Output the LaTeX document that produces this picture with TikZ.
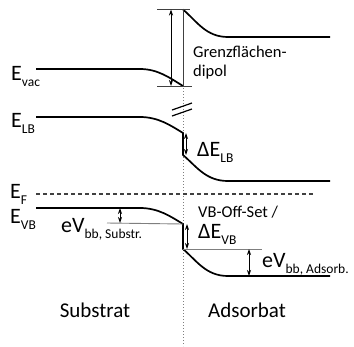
\documentclass[tikz,border=0pt]{standalone}
\usepackage{fontspec}
\setmainfont{Carlito}
\usetikzlibrary{arrows.meta, positioning, calc}
\definecolor{refgrey}{HTML}{7f7f7f}
\definecolor{tickgrey}{HTML}{404040}
\tikzstyle{band} = [line width=1.7pt, black]
\tikzstyle{refline} = [line width=0.9pt, refgrey]
\tikzstyle{tickline} = [line width=0.9pt, tickgrey]
\tikzstyle{dimarrow} = [line width=0.8pt, {Stealth[length=6pt,width=4pt]}-{Stealth[length=6pt,width=4pt]}]
\tikzstyle{lvl} = [inner sep=0pt, anchor=base west, font=\fontsize{22}{24}\selectfont]
\tikzstyle{note} = [inner sep=0pt, anchor=base west, font=\fontsize{16.5}{19}\selectfont]
\tikzstyle{side} = [inner sep=0pt, anchor=base, font=\fontsize{21}{24}\selectfont]
\newcommand{\lsub}[1]{\raisebox{-0.3em}{\fontsize{13.5}{14}\selectfont #1}}

\begin{document}
\begin{tikzpicture}[x=1pt, y=-1pt]
  \useasboundingbox (0,0) rectangle (354,346);

  % interface
  \coordinate (ifTop) at (183,88);
  \coordinate (ifBot) at (183,346);
  \draw[refgrey, dotted, line width=1pt] (ifTop) -- (ifBot);

  % vacuum level and interface dipole
  \coordinate (vacL) at (36,69);
  \coordinate (vacI) at (183,86);
  \coordinate (vacR) at (183,9.5);
  \coordinate (vacE) at (330,37);
  \draw[band] (vacL) -- ++(104,0) .. controls +(18,0) and +(-13,-8) .. (vacI);
  \draw[band] (vacR) .. controls +(14,12) and +(-22,0) .. ++(45,27.5) -- (vacE);
  \draw[tickline] (vacR) -- (vacI);
  \draw[tickline] ($(vacR)+(-26,0)$) -- ($(vacR)+(7,0)$);
  \draw[tickline] ($(vacI)+(-26,0)$) -- ($(vacI)+(9,0)$);
  \coordinate (dipT) at (171,9.5);
  \coordinate (dipB) at (171,86);
  \draw[dimarrow] (dipT) -- (dipB);
  \node (dip) [note] at (193,57) {Grenzflächen-};
  \node (dip2)[note] at (193,76) {dipol};

  % break marks
  \draw[line width=1.2pt] (172,110) -- (192,103);
  \draw[line width=1.2pt] (172,116) -- (192,109);

  % conduction band (LB)
  \coordinate (lbL) at (36,117);
  \coordinate (lbI) at (183,133);
  \coordinate (lbJ) at (183,155);
  \coordinate (lbE) at (330,181);
  \draw[band] (lbL) -- ++(104,0) .. controls +(18,0) and +(-13,-8) .. (lbI) -- (lbJ)
    .. controls +(14,12) and +(-22,0) .. ++(45,26) -- (lbE);
  \draw[dimarrow] ($(lbI)+(3,0)$) -- ($(lbJ)+(3,0)$);
  \node (dlb) [lvl] at (197,156) {ΔE\lsub{LB}};

  % Fermi level
  \coordinate (efL) at (36,194);
  \coordinate (efE) at (313,194);
  \draw[dashed, line width=1.2pt, black!75, dash pattern=on 4pt off 3pt] (efL) -- (efE);

  % valence band (VB)
  \coordinate (vbL) at (36,208);
  \coordinate (vbI) at (183,224);
  \coordinate (vbJ) at (183,249);
  \coordinate (vbE) at (330,276);
  \draw[band] (vbL) -- ++(104,0) .. controls +(18,0) and +(-13,-8) .. (vbI) -- (vbJ)
    .. controls +(14,12) and +(-22,0) .. ++(45,27) -- (vbE);
  \draw[refline] (107,223) -- (vbI);
  \draw[refline] (vbJ) -- (262,249);
  \draw[dimarrow] (120,208) -- (120,223);
  \draw[dimarrow] ($(vbI)+(4,0)$) -- ($(vbJ)+(4,0)$);
  \draw[dimarrow] (249,249) -- (249,276);

  % labels
  \node (evac) [lvl] at (11,80) {E\lsub{vac}};
  \node (elb)  [lvl] at (11,127) {E\lsub{LB}};
  \node (ef)   [lvl] at (10,198) {E\lsub{F}};
  \node (evb)  [lvl] at (10,223) {E\lsub{VB}};
  \node (vbs)  [lvl] at (61,232) {eV\lsub{bb, Substr.}};
  \node (off)  [note] at (198,217) {VB-Off-Set /};
  \node (dvb)  [lvl] at (198,238) {ΔE\lsub{VB}};
  \node (vba)  [lvl] at (262,267) {eV\lsub{bb, Adsorb.}};
  \node (sub)  [side] at (95,317) {Substrat};
  \node (ads)  [side] at (247,317) {Adsorbat};
\end{tikzpicture}
\end{document}
